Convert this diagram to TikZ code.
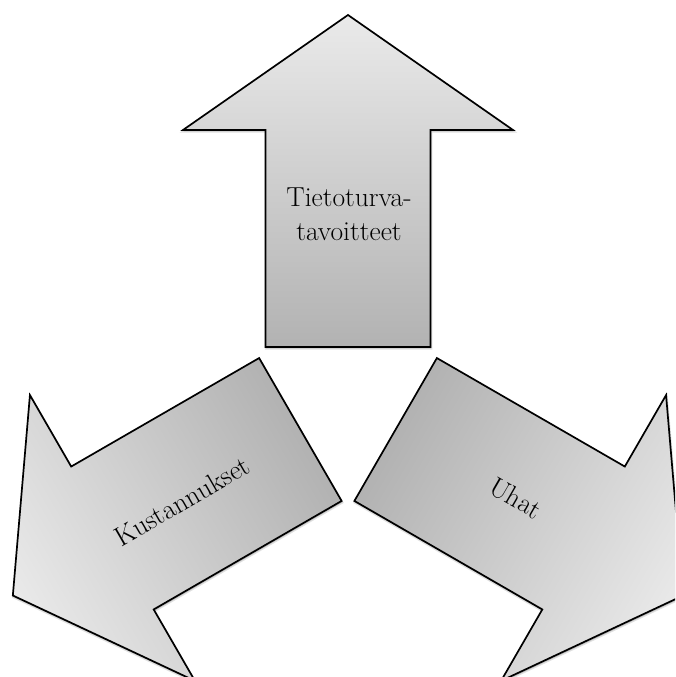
\documentclass[tikz,border=0pt]{standalone}
\usepackage{fontspec}
\setmainfont{Latin Modern Roman}
\begin{document}
\begin{tikzpicture}[x=1pt,y=1pt,
    blockarrow/.style={draw=black, line width=1.7pt, line join=miter,
      top color=arrowlight, bottom color=arrowdark},
    arrowshadow/.style={fill=black, opacity=0.18, draw=black, line width=2.5pt, draw opacity=0.12},
    label/.style={font=\fontsize{27.5}{34}\selectfont, align=center, inner sep=0pt}]
  \definecolor{arrowlight}{HTML}{EAEAEA}
  \definecolor{arrowdark}{HTML}{B2B2B2}
  % canvas
  \useasboundingbox (0,0) rectangle (675,677);
  \clip (0,0) rectangle (675,677);
  % one block arrow pointing up, drawn around the common centre,
  % then turned by 0, 120 and -120 degrees
  \def\blockarrowpath{(-82.5,55) -- (82.5,55) -- (82.5,272) -- (165,272)
    -- (0,387) -- (-165,272) -- (-82.5,272) -- cycle}
  \foreach \ang in {0,120,-120}{
    % soft shadow, a little below the arrow
    \begin{scope}[transform canvas={shift={(348.5pt,273.5pt)}, rotate=\ang}]
      \fill[arrowshadow] \blockarrowpath;
    \end{scope}
    \begin{scope}[transform canvas={shift={(348pt,275pt)}, rotate=\ang}]
      \shade[blockarrow] \blockarrowpath;
    \end{scope}
  }
  % labels
  \node[label] (goals) at (349,463) {Tietoturva-\\tavoitteet};
  \node[label, rotate=30] (costs) at (182,176) {Kustannukset};
  \node[label, rotate=-30] (threats) at (516,179) {Uhat};
\end{tikzpicture}
\end{document}
